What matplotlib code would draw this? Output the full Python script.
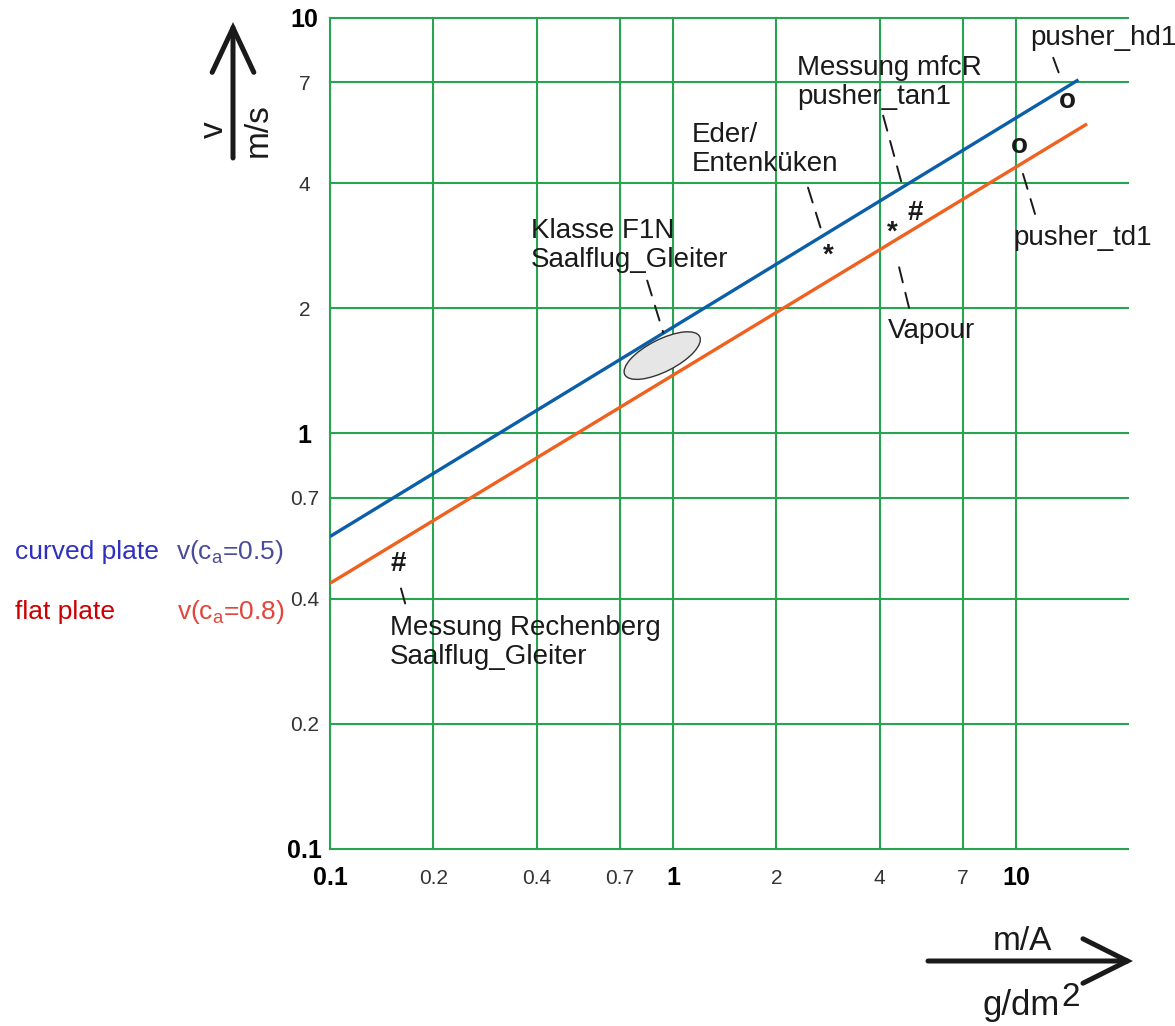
import matplotlib.pyplot as plt
from matplotlib.patches import Ellipse, FancyArrowPatch
from matplotlib.transforms import offset_copy, ScaledTranslation

plt.rcParams['font.family'] = ['Liberation Sans', 'DejaVu Sans']

W, H = 1175, 1026

# Achsen: m/A in g/dm^2, v in m/s (beide logarithmisch)
x_ticks = [0.1, 0.2, 0.4, 0.7, 1, 2, 4, 7, 10]
x_labels = ['0.1', '0.2', '0.4', '0.7', '1', '2', '4', '7', '10']
y_ticks = [0.1, 0.2, 0.4, 0.7, 1, 2, 4, 7, 10]
y_labels = ['0.1', '0.2', '0.4', '0.7', '1', '2', '4', '7', '10']
bold_labels = ['0.1', '1', '10']

# Geschwindigkeit ueber Flaechenbelastung
ma_curved = [0.1, 15.2]
v_curved = [0.565, 7.1]
ma_flat = [0.1, 16.1]
v_flat = [0.436, 5.56]

# Messpunkte der Modelle
pt_names = ['Messung Rechenberg\nSaalflug_Gleiter', 'Eder/\nEntenküken',
            'Messung mfcR\npusher_tan1', 'Vapour', 'pusher_hd1', 'pusher_td1']
pt_symbols = ['#', '*', '#', '*', 'o', 'o']
pt_ma = [0.158, 2.83, 5.08, 4.35, 14.1, 10.2]
pt_v = [0.484, 2.68, 3.40, 3.04, 6.32, 4.92]

# Bereich Klasse F1N
f1n_name = 'Klasse F1N\nSaalflug_Gleiter'
f1n_ma = 0.93
f1n_v = 1.54

ink = '#1a1a1a'
grid_green = '#27a452'


def fpos(x, y):
    # Pixel (von oben links) -> figure fraction
    return x / W, 1 - y / H


fig = plt.figure(figsize=(W / 100, H / 100), dpi=100)
ax = fig.add_axes([330 / W, 1 - 849 / H, (1128 - 330) / W, (849 - 18) / H])
ax.set_xscale('log')
ax.set_yscale('log')
ax.set_xlim(0.1, 21.2)
ax.set_ylim(0.1, 10)
for s in ax.spines.values():
    s.set_visible(False)
ax.minorticks_off()
ax.set_xticks(x_ticks, x_labels)
ax.set_yticks(y_ticks, y_labels)
ax.tick_params(length=0)
ax.tick_params(axis='x', pad=21)
ax.tick_params(axis='y', pad=18.5)
for lab in ax.get_xticklabels():
    lab.set_va('center')
for lab in ax.get_yticklabels():
    lab.set_ha('center')
for lab in ax.get_xticklabels() + ax.get_yticklabels():
    if lab.get_text() in bold_labels:
        lab.set_fontweight('bold')
        lab.set_fontsize(18)
        lab.set_color('black')
    else:
        lab.set_fontsize(15)
        lab.set_color('#333333')

ax.grid(True, color=grid_green, lw=1.5)
for gl in ax.get_xgridlines() + ax.get_ygridlines():
    gl.set_clip_on(False)

ax.plot(ma_curved, v_curved, color='#0b5ea8', lw=2.4, solid_capstyle='butt')
ax.plot(ma_flat, v_flat, color='#f0601e', lw=2.4, solid_capstyle='butt')

# F1N als Ellipse (Groesse in Zoll um den Mittelpunkt)
ell = Ellipse((0, 0), width=0.84, height=0.32, angle=27,
              transform=fig.dpi_scale_trans + ScaledTranslation(f1n_ma, f1n_v, ax.transData),
              facecolor='#e6e6e6', edgecolor='#333333', lw=1.0, zorder=3)
ax.add_patch(ell)

# Beschriftungen: Textversatz und Hinweisstrich in Pixeln relativ zum Punkt
label_off = [(-8, -78), (-136, 106), (-118, 130), (-4, -98), (-37, 63), (-6, -92)]
leader_off = [((2, -21), (7, -39)), ((-5, 20), (-20, 68)), ((-12, 24), (-32, 97)),
              ((5, -26), (17, -75)), ((-7, 24), (-14, 43)), ((1, -18), (16, -68))]
f1n_label_off = (-131, 110)
f1n_leader_off = ((1, 23), (-15, 75))


def leader(x, y, a, b):
    ax.annotate('', xy=(x, y), xycoords=offset_copy(ax.transData, fig=fig, x=a[0], y=a[1], units='dots'),
                xytext=(x, y), textcoords=offset_copy(ax.transData, fig=fig, x=b[0], y=b[1], units='dots'),
                arrowprops=dict(arrowstyle='-', lw=1.4, ls=(0, (8, 5.5)), color=ink,
                                shrinkA=0, shrinkB=0))


for name, sym, x, y, lo, (a, b) in zip(pt_names, pt_symbols, pt_ma, pt_v, label_off, leader_off):
    ax.text(x, y, sym, ha='center', va='center', fontsize=20, fontweight='bold', color=ink, zorder=4)
    ax.annotate(name, xy=(x, y), xytext=lo, textcoords='offset pixels',
                ha='left', va='center', fontsize=20, color=ink, linespacing=1.15)
    leader(x, y, a, b)

ax.annotate(f1n_name, xy=(f1n_ma, f1n_v), xytext=f1n_label_off, textcoords='offset pixels',
            ha='left', va='center', fontsize=20, color=ink, linespacing=1.15)
leader(f1n_ma, f1n_v, *f1n_leader_off)

# Achsenpfeile
up = FancyArrowPatch(fpos(233, 158), fpos(233, 22), transform=fig.transFigure,
                     arrowstyle='->,head_length=32,head_width=15', mutation_scale=1,
                     lw=3.6, color=ink, shrinkA=0, shrinkB=0, joinstyle='miter')
fig.add_artist(up)
right = FancyArrowPatch(fpos(928, 961), fpos(1133, 961), transform=fig.transFigure,
                        arrowstyle='->,head_length=32,head_width=16', mutation_scale=1,
                        lw=3.6, color=ink, shrinkA=0, shrinkB=0, joinstyle='miter')
fig.add_artist(right)

fig.text(*fpos(214, 130), 'v', rotation=90, ha='center', va='center', fontsize=24, color=ink)
fig.text(*fpos(258, 130), 'm/s', rotation=90, ha='center', va='center', fontsize=24, color=ink)
fig.text(*fpos(1022, 942), 'm/A', ha='center', va='center', fontsize=24, color=ink)
fig.text(*fpos(1060, 1015), 'g/dm', ha='right', va='baseline', fontsize=25, color=ink)
fig.text(*fpos(1061, 1006), '2', ha='left', va='baseline', fontsize=24, color=ink)

# Legende links
fig.text(*fpos(15, 552), 'curved plate', ha='left', va='center', fontsize=19, color='#2f2fc0')
fig.text(*fpos(176, 552), r'v(c$_\mathregular{a}$=0.5)', ha='left', va='center', fontsize=19, color='#4b4b9b')
fig.text(*fpos(15, 612), 'flat plate', ha='left', va='center', fontsize=19, color='#cc0000')
fig.text(*fpos(177, 612), r'v(c$_\mathregular{a}$=0.8)', ha='left', va='center', fontsize=19, color='#e2453c')

fig.savefig('out.png', dpi=100)
